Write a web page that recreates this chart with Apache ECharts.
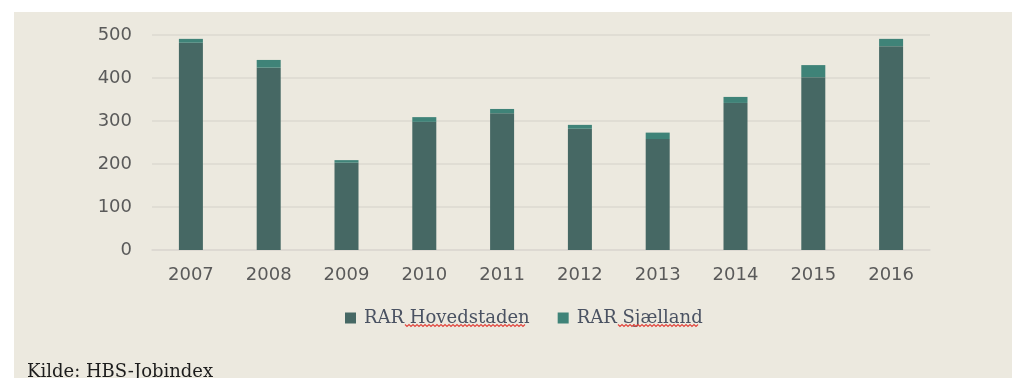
<!DOCTYPE html>
<html>
<head>
<meta charset="utf-8">
<script src="https://cdn.jsdelivr.net/npm/echarts@6/dist/echarts.min.js"></script>
<style>
  html, body { margin: 0; padding: 0; background: #ffffff; }
  #chart { width: 1012px; height: 378px; }
</style>
</head>
<body>
<div id="chart"></div>
<script>
// Job postings per year, stacked by regional labour market council
const years = ['2007', '2008', '2009', '2010', '2011', '2012', '2013', '2014', '2015', '2016'];
const hovedstaden = [482, 424, 203, 298, 318, 282, 258, 342, 402, 474];
const sjaelland = [9, 18, 6, 11, 10, 9, 15, 14, 28, 17];
const yTicks = [0, 100, 200, 300, 400, 500];
const seriesNames = ['RAR Hovedstaden', 'RAR Sjælland'];
const sourceNote = 'Kilde: HBS-Jobindex';

const PANEL = '#ece9df';
const DARK = '#466864';
const TEAL = '#3f8378';
const SERIF = '"DejaVu Serif", "Liberation Serif", serif';
const SANS = '"DejaVu Sans", Verdana, sans-serif';

const LEGEND_LEFT = 340;
const LEGEND_TOP = 304;
const LEGEND_ICON = 11;
const LEGEND_GAP = 28;
const LEGEND_FONT = 18;

// Wavy proofing underline under the second word of each legend label
const measureCtx = document.createElement('canvas').getContext('2d');
measureCtx.font = LEGEND_FONT + 'px ' + SERIF;
function textWidth(s) { return measureCtx.measureText(s).width; }

function wavyLine(x0, x1, y) {
  const pts = [];
  let up = true;
  const start = Math.round(x0);
  const end = Math.round(x1);
  for (let x = start; x <= end; x += 2) {
    pts.push([x, y + (up ? -1 : 1)]);
    up = !up;
  }
  return {
    type: 'polyline', silent: true, z: 100, zlevel: 0,
    shape: { points: pts },
    style: { stroke: '#e2443d', lineWidth: 1.1, fill: 'none' }
  };
}

const squiggles = [];
let itemX = LEGEND_LEFT;
seriesNames.forEach(function (name) {
  const textX = itemX + LEGEND_ICON + 5 + 3;
  const wx0 = textX + textWidth('RAR ');
  const wx1 = textX + textWidth(name);
  squiggles.push(wavyLine(wx0, wx1, 325.5));
  itemX = textX + textWidth(name) + LEGEND_GAP;
});

const chart = echarts.init(document.getElementById('chart'), null, { renderer: 'canvas' });

chart.setOption({
  backgroundColor: '#ffffff',
  animation: false,
  graphic: [
    {
      type: 'rect', left: 14, top: 12, z: -10,
      shape: { width: 998, height: 366 },
      style: { fill: PANEL }
    },
    {
      type: 'text', left: 27, top: 363,
      style: { text: sourceNote, fill: '#1c1c1c', font: '18px ' + SERIF }
    }
  ].concat(squiggles),
  grid: { left: 152, right: 82, top: 35, bottom: 128, containLabel: false },
  legend: {
    data: seriesNames,
    left: LEGEND_LEFT, top: LEGEND_TOP,
    itemWidth: LEGEND_ICON, itemHeight: LEGEND_ICON, itemGap: LEGEND_GAP,
    icon: 'rect',
    textStyle: {
      color: '#4a5262', fontFamily: SERIF, fontSize: LEGEND_FONT,
      padding: [0, 0, 0, 3]
    }
  },
  xAxis: {
    type: 'category',
    data: years,
    axisLine: { show: true, lineStyle: { color: '#dcd8d1', width: 1.5 } },
    axisTick: { show: false },
    axisLabel: { color: '#5a5a5a', fontSize: 18, margin: 16, fontFamily: SANS }
  },
  yAxis: {
    type: 'value',
    min: yTicks[0], max: yTicks[yTicks.length - 1], interval: 100,
    axisLine: { show: false },
    axisTick: { show: false },
    splitLine: { lineStyle: { color: '#dcd8d1', width: 1.5 } },
    axisLabel: { color: '#5a5a5a', fontSize: 18, margin: 20, fontFamily: SANS }
  },
  series: [
    {
      name: seriesNames[0], type: 'bar', stack: 'rar', barWidth: 24,
      data: hovedstaden,
      itemStyle: { color: DARK }
    },
    {
      name: seriesNames[1], type: 'bar', stack: 'rar', barWidth: 24,
      data: sjaelland,
      itemStyle: { color: TEAL }
    }
  ]
});
</script>
</body>
</html>
